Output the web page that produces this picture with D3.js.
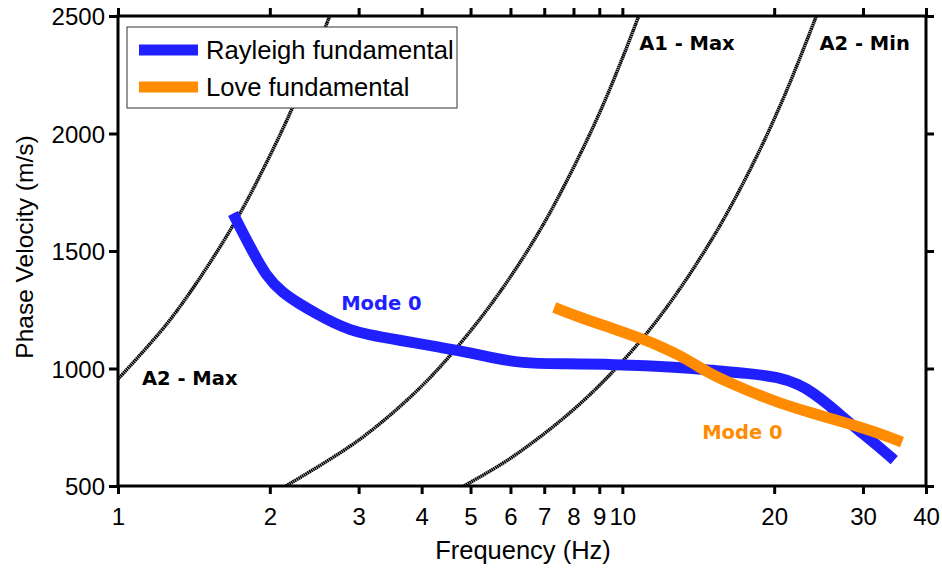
<!DOCTYPE html>
<html>
<head>
<meta charset="utf-8">
<script src="https://cdn.jsdelivr.net/npm/d3@7"></script>
<style>
  body { margin: 0; background: #fff; }
  svg { display: block; }
</style>
</head>
<body>
<script>
// chart data
var rayleighFreq = [1.69, 1.83, 1.97, 2.12, 2.29, 2.48, 2.67, 2.88, 3.11, 3.62, 4.35, 4.9, 5.45, 6.33, 7.5, 9.55, 12.97, 15.07, 17.6, 20.46, 22.4, 23.8, 25.7, 27.8, 29.9, 32.3, 34.6];
var rayleighVel  = [1660, 1515, 1390, 1322, 1275, 1232, 1195, 1165, 1145, 1120, 1091, 1070, 1048, 1022, 1020, 1018, 1006, 992, 980, 963, 932, 899, 844, 780, 725, 666, 610];

var loveFreq = [7.33, 8.22, 9.55, 11.15, 12.0, 12.97, 14.02, 15.07, 17.6, 20.46, 23.8, 27.8, 32.3, 35.85];
var loveVel  = [1260, 1218, 1171, 1120, 1090, 1057, 1014, 972, 908, 853, 810, 768, 725, 687];

// array resolution limit lines
var a2MaxFreq = [1, 1.25, 1.5, 1.75, 2, 2.25, 2.5, 2.65];
var a2MaxVel  = [955, 1190, 1430, 1665, 1905, 2140, 2380, 2520];
var a1MaxFreq = [2.1, 3, 4, 5, 6, 7, 8, 9, 10, 11];
var a1MaxVel  = [487, 695, 925, 1160, 1390, 1620, 1855, 2085, 2320, 2550];
var a2MinFreq = [4.7, 6, 8, 10, 12, 15, 18, 21, 24.5];
var a2MinVel  = [484, 618, 825, 1030, 1235, 1545, 1855, 2165, 2525];

var xTicks = [1, 2, 3, 4, 5, 6, 7, 8, 9, 10, 20, 30, 40];
var yTicks = [500, 1000, 1500, 2000, 2500];

var width = 942, height = 570;
var margin = {top: 16, right: 16, bottom: 84, left: 118};
var w = width - margin.left - margin.right,
    h = height - margin.top - margin.bottom;

var svg = d3.select("body").append("svg")
    .attr("width", width)
    .attr("height", height);

var g = svg.append("g")
    .attr("transform", "translate(" + margin.left + "," + margin.top + ")");

var x = d3.scaleLog().domain([1, 40]).range([0, w]);
var y = d3.scaleLinear().domain([500, 2500]).range([h, 0]);

svg.append("defs").append("clipPath").attr("id", "plot")
    .append("rect").attr("width", w).attr("height", h);

function zip(fs, vs) {
    return fs.map(function(f, i) { return [f, vs[i]]; });
}

var line = d3.line()
    .x(function(d) { return x(d[0]); })
    .y(function(d) { return y(d[1]); })
    .curve(d3.curveCatmullRom);

var smooth = d3.line()
    .x(function(d) { return x(d[0]); })
    .y(function(d) { return y(d[1]); })
    .curve(d3.curveBasis);

var plot = g.append("g").attr("clip-path", "url(#plot)");

// dotted limit lines
[zip(a2MaxFreq, a2MaxVel), zip(a1MaxFreq, a1MaxVel), zip(a2MinFreq, a2MinVel)].forEach(function(pts) {
    plot.append("path")
        .attr("d", line(pts))
        .attr("fill", "none")
        .attr("stroke", "#000")
        .attr("stroke-width", 3.5)
        .attr("stroke-dasharray", "1.6,0.5");
});

var blue = "#2020ff", orange = "#ff8c00";

plot.append("path")
    .attr("d", smooth(zip(rayleighFreq, rayleighVel)))
    .attr("fill", "none")
    .attr("stroke", blue)
    .attr("stroke-width", 11);

plot.append("path")
    .attr("d", smooth(zip(loveFreq, loveVel)))
    .attr("fill", "none")
    .attr("stroke", orange)
    .attr("stroke-width", 11);

// annotations
var labelFont = "'DejaVu Sans', sans-serif";
function note(txt, f, v, col) {
    g.append("text")
        .attr("x", x(f)).attr("y", y(v))
        .attr("font-family", labelFont)
        .attr("font-weight", "bold")
        .attr("font-size", 19.5)
        .attr("fill", col)
        .text(txt);
}
note("A1 - Max", 10.8, 2356, "#000");
note("A2 - Min", 24.6, 2356, "#000");
note("A2 - Max", 1.116, 930, "#000");
note("Mode 0", 2.77, 1250, blue);
note("Mode 0", 14.4, 700, orange);

// axes
var font = "'Liberation Sans', Arial, sans-serif";
var fmt = function(d) { return d; };

var axB = g.append("g").attr("transform", "translate(0," + h + ")")
    .call(d3.axisBottom(x).tickValues(xTicks).tickFormat(fmt).tickSizeInner(8).tickSizeOuter(0).tickPadding(14));
var axT = g.append("g")
    .call(d3.axisTop(x).tickValues(xTicks).tickFormat("").tickSizeInner(8).tickSizeOuter(0));
var axL = g.append("g")
    .call(d3.axisLeft(y).tickValues(yTicks).tickFormat(fmt).tickSizeInner(9).tickSizeOuter(0).tickPadding(4));
var axR = g.append("g").attr("transform", "translate(" + w + ",0)")
    .call(d3.axisRight(y).tickValues(yTicks).tickFormat("").tickSizeInner(8).tickSizeOuter(0));

[axB, axT, axL, axR].forEach(function(a) {
    a.selectAll(".domain").remove();
    a.selectAll(".tick line").attr("stroke", "#000").attr("stroke-width", 3);
    a.selectAll("text").attr("font-family", font).attr("font-size", 24).attr("fill", "#000");
});
axL.selectAll("text").attr("dy", "0.36em");

g.append("rect")
    .attr("width", w).attr("height", h)
    .attr("fill", "none")
    .attr("stroke", "#000")
    .attr("stroke-width", 3);

// axis titles
svg.append("text")
    .attr("x", 523).attr("y", 559)
    .attr("text-anchor", "middle")
    .attr("font-family", font).attr("font-size", 25.5)
    .text("Frequency (Hz)");

svg.append("text")
    .attr("transform", "translate(33," + (margin.top + h / 2 - 4) + ") rotate(-90)")
    .attr("text-anchor", "middle")
    .attr("font-family", font).attr("font-size", 24.5)
    .text("Phase Velocity (m/s)");

// legend
var legend = svg.append("g").attr("transform", "translate(127,27)");
legend.append("rect")
    .attr("width", 330).attr("height", 81)
    .attr("fill", "#fff")
    .attr("stroke", "#333")
    .attr("stroke-width", 1);

var legendNames = ["Rayleigh fundamental", "Love fundamental"];
var legendColors = [blue, orange];
legendNames.forEach(function(name, i) {
    var yy = 23 + i * 37;
    legend.append("line")
        .attr("x1", 12).attr("x2", 71)
        .attr("y1", yy).attr("y2", yy)
        .attr("stroke", legendColors[i])
        .attr("stroke-width", 11);
    legend.append("text")
        .attr("x", 79).attr("y", yy + 9)
        .attr("font-family", font).attr("font-size", 25.6)
        .text(name);
});
</script>
</body>
</html>
